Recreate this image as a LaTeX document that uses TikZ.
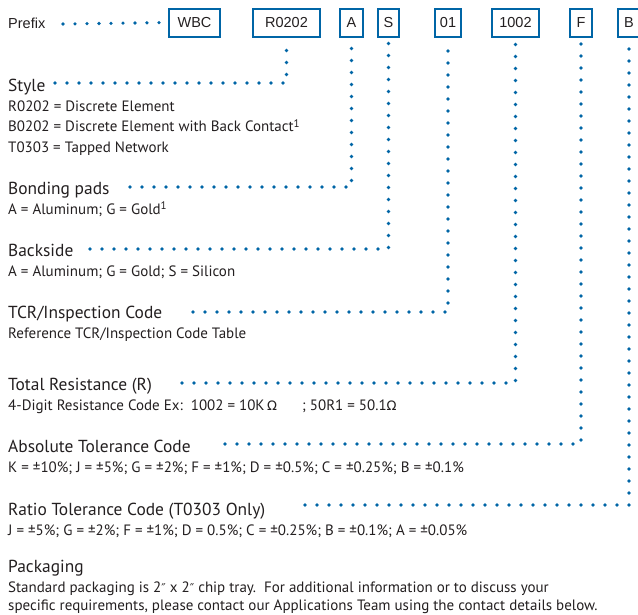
\documentclass[tikz,border=0pt]{standalone}
\usepackage{fontspec}
\setmainfont{PT Sans}
\newfontfamily\arialfont{Liberation Sans}
\newfontfamily\symfont{DejaVu Sans}
\usetikzlibrary{positioning}

\definecolor{pnblue}{RGB}{0,101,166}
\definecolor{pntext}{RGB}{35,31,32}

\newcommand{\ohm}{{\symfont\fontsize{13}{15}\selectfont Ω}}
\newcommand{\dprime}{{\symfont\fontsize{12}{15}\selectfont ″}}
\newcommand{\fnmark}{\raisebox{4.5pt}{\fontsize{11}{13}\selectfont 1}}

\tikzset{
  codebox/.style={draw=pnblue, line width=2pt, minimum height=28pt, inner sep=0pt,
                  font=\arialfont\fontsize{14.5}{17}\selectfont, text=pntext},
  heading/.style={anchor=base west, inner sep=0pt, text=pntext,
                  font=\fontsize{17.4}{20}\selectfont},
  detail/.style={anchor=base west, inner sep=0pt, text=pntext,
                 font=\fontsize{15}{17}\selectfont},
  dotline/.style={pnblue, line width=3.6pt, line cap=round, dash pattern=on 0pt off 12pt}
}

\begin{document}
\begin{tikzpicture}[x=1pt, y=-1pt]
\useasboundingbox (0,0) rectangle (638,614);

% Code boxes
\node[codebox, minimum width=51pt] (wbc)   at (194.5,22.5) {WBC};
\node[codebox, minimum width=67pt] (r0202) at (286.5,22.5) {R0202};
\node[codebox, minimum width=23pt] (bpad)  at (351.5,22.5) {A};
\node[codebox, minimum width=21pt] (bside) at (388.5,22.5) {S};
\node[codebox, minimum width=26pt] (tcr)   at (448,22.5)   {01};
\node[codebox, minimum width=47pt] (res)   at (515.5,22.5) {1002};
\node[codebox, minimum width=22pt] (atol)  at (581,22.5)   {F};
\node[codebox, minimum width=22pt] (rtol)  at (629,22.5)   {B};

% Headings and details
\node[anchor=base west, inner sep=0pt, text=pntext, font=\arialfont\fontsize{14.5}{17}\selectfont]
  (prefix) at (8,28) {Prefix};

\node[heading] (style) at (8,91) {Style};
\node[detail] (style1) at (8,111) {R0202 = Discrete Element};
\node[detail] (style2) at (8,131.5) {B0202 = Discrete Element with Back Contact\fnmark};
\node[detail] (style3) at (8,152) {T0303 = Tapped Network};

\node[heading] (bond) at (8,194) {Bonding pads};
\node[detail] (bond1) at (8,214) {A = Aluminum; G = Gold\fnmark};

\node[heading] (back) at (8,256) {Backside};
\node[detail] (back1) at (8,276) {A = Aluminum; G = Gold; S = Silicon};

\node[heading] (insp) at (8,318) {TCR/Inspection Code};
\node[detail] (insp1) at (8,338) {Reference TCR/Inspection Code Table};

\node[heading] (total) at (8,390) {Total Resistance (R)};
\node[detail] (total1) at (8,410)
  {4-Digit Resistance Code Ex:\ \ 1002 = 10K\,\ohm\hspace{25pt}; 50R1 = 50.1\ohm};

\node[heading] (abstol) at (8,452) {Absolute Tolerance Code};
\node[detail] (abstol1) at (8,472)
  {K = ±10\%; J = ±5\%; G = ±2\%; F = ±1\%; D = ±0.5\%; C = ±0.25\%; B = ±0.1\%};

\node[heading] (ratio) at (8,515) {Ratio Tolerance Code (T0303 Only)};
\node[detail] (ratio1) at (8,535)
  {J = ±5\%; G = ±2\%; F = ±1\%; D = 0.5\%; C = ±0.25\%; B = ±0.1\%; A = ±0.05\%};

\node[heading] (pack) at (8,572) {Packaging};
\node[detail] (pack1) at (8,592)
  {Standard packaging is 2\dprime{} x 2\dprime{} chip tray.\ \ For additional information or to discuss your};
\node[detail] (pack2) at (8,610)
  {specific requirements, please contact our Applications Team using the contact details below.};

% Leader start points
\coordinate (pfx0) at (63,24);
\coordinate (sty0) at (55,83);
\coordinate (bpd0) at (130,187);
\coordinate (bks0) at (90,249);
\coordinate (tcr0) at (193,312);
\coordinate (res0) at (182,383);
\coordinate (atl0) at (225,444);
\coordinate (rtl0) at (305,505);

% Leaders
\draw[dotline] (pfx0) -- (wbc.west);
\draw[dotline] (sty0) -| ([yshift=-3pt]r0202.south);
\draw[dotline] (bpd0) -| ([yshift=-3pt]bpad.south);
\draw[dotline] (bks0) -| ([yshift=-3pt]bside.south);
\draw[dotline] (tcr0) -| ([yshift=-3pt]tcr.south);
\draw[dotline] (res0) -| ([yshift=-3pt]res.south);
\draw[dotline] (atl0) -| ([yshift=-3pt]atol.south);
\draw[dotline] (rtl0) -| ([yshift=-3pt]rtol.south);

\end{tikzpicture}
\end{document}
